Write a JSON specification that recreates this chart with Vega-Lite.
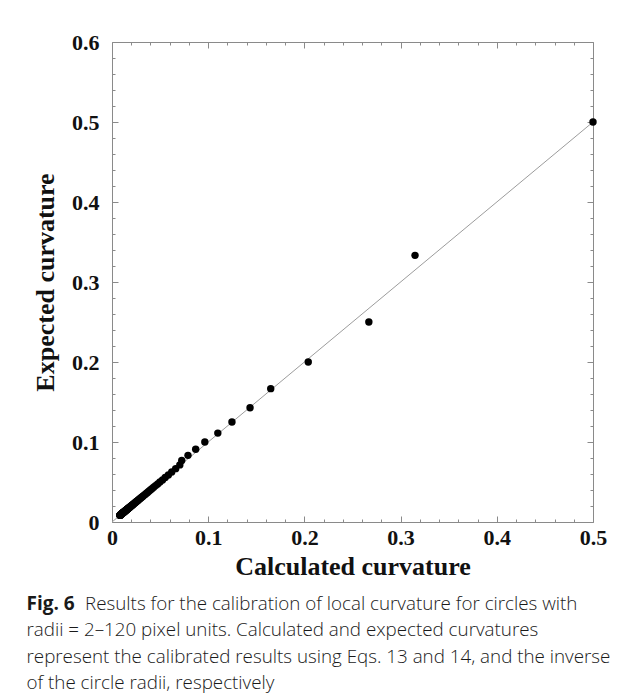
{
  "$schema": "https://vega.github.io/schema/vega-lite/v6.json",
  "width": 481,
  "height": 480,
  "autosize": {"type": "none"},
  "padding": {"left": 112, "top": 42, "right": 36, "bottom": 177},
  "background": "white",
  "config": {
    "view": {"stroke": null},
    "axis": {
      "domainColor": "#8a8a8a",
      "tickColor": "#8a8a8a",
      "grid": false,
      "labelFont": "Liberation Serif",
      "labelFontWeight": "bold",
      "labelFontSize": 22,
      "labelColor": "#111",
      "titleFont": "Liberation Serif",
      "titleFontWeight": "bold",
      "titleFontSize": 26,
      "titleColor": "#111",
      "labelFlush": false,
      "labelOverlap": false,
      "format": ".1~f"
    }
  },
  "title": {
    "text": "Fig. 6",
    "subtitle": [
      "\u200b\u00a0\u00a0\u00a0\u00a0\u00a0\u00a0\u00a0\u00a0\u00a0\u00a0\u00a0\u00a0Results for the calibration of local curvature for circles with",
      "radii = 2–120 pixel units. Calculated and expected curvatures",
      "represent the calibrated results using Eqs. 13 and 14, and the inverse",
      "of the circle radii, respectively"
    ],
    "orient": "bottom",
    "anchor": "start",
    "frame": "bounds",
    "font": "Open Sans",
    "fontSize": 19,
    "fontWeight": "bold",
    "color": "#1a1a1a",
    "subtitleFont": "Open Sans",
    "subtitleFontSize": 18.8,
    "subtitleFontWeight": 300,
    "subtitleColor": "#1a1a1a",
    "subtitleLineHeight": 26.3,
    "subtitlePadding": -19,
    "offset": 16,
    "dx": -6
  },
  "datasets": {
    "ref": [{"calc": 0, "exp": 0}, {"calc": 0.5, "exp": 0.5}],
    "pts": [
      {"calc": 0.5, "exp": 0.5},
      {"calc": 0.315, "exp": 0.3333},
      {"calc": 0.267, "exp": 0.25},
      {"calc": 0.204, "exp": 0.2},
      {"calc": 0.165, "exp": 0.1667},
      {"calc": 0.1435, "exp": 0.1429},
      {"calc": 0.1247, "exp": 0.125},
      {"calc": 0.110, "exp": 0.1111},
      {"calc": 0.0965, "exp": 0.1},
      {"calc": 0.087, "exp": 0.0909},
      {"calc": 0.079, "exp": 0.0833},
      {"calc": 0.0725, "exp": 0.0769},
      {"calc": 0.0705, "exp": 0.0714},
      {"calc": 0.0662, "exp": 0.0667},
      {"calc": 0.0621, "exp": 0.0625},
      {"calc": 0.0586, "exp": 0.0588},
      {"calc": 0.0553, "exp": 0.0556},
      {"calc": 0.0525, "exp": 0.0526},
      {"calc": 0.0498, "exp": 0.05},
      {"calc": 0.0475, "exp": 0.0476},
      {"calc": 0.0453, "exp": 0.0455},
      {"calc": 0.0433, "exp": 0.0435},
      {"calc": 0.0415, "exp": 0.0417},
      {"calc": 0.0399, "exp": 0.04},
      {"calc": 0.0383, "exp": 0.0385},
      {"calc": 0.0369, "exp": 0.037},
      {"calc": 0.0356, "exp": 0.0357},
      {"calc": 0.0344, "exp": 0.0345},
      {"calc": 0.0332, "exp": 0.0333},
      {"calc": 0.0322, "exp": 0.0323},
      {"calc": 0.0312, "exp": 0.0313},
      {"calc": 0.0302, "exp": 0.0303},
      {"calc": 0.0293, "exp": 0.0294},
      {"calc": 0.0285, "exp": 0.0286},
      {"calc": 0.0277, "exp": 0.0278},
      {"calc": 0.0269, "exp": 0.027},
      {"calc": 0.0262, "exp": 0.0263},
      {"calc": 0.0255, "exp": 0.0256},
      {"calc": 0.0249, "exp": 0.025},
      {"calc": 0.0243, "exp": 0.0244},
      {"calc": 0.0237, "exp": 0.0238},
      {"calc": 0.0232, "exp": 0.0233},
      {"calc": 0.0226, "exp": 0.0227},
      {"calc": 0.0221, "exp": 0.0222},
      {"calc": 0.0216, "exp": 0.0217},
      {"calc": 0.0212, "exp": 0.0213},
      {"calc": 0.0207, "exp": 0.0208},
      {"calc": 0.0203, "exp": 0.0204},
      {"calc": 0.0199, "exp": 0.02},
      {"calc": 0.0195, "exp": 0.0196},
      {"calc": 0.0191, "exp": 0.0192},
      {"calc": 0.0188, "exp": 0.0189},
      {"calc": 0.0184, "exp": 0.0185},
      {"calc": 0.0181, "exp": 0.0182},
      {"calc": 0.0178, "exp": 0.0179},
      {"calc": 0.0174, "exp": 0.0175},
      {"calc": 0.0171, "exp": 0.0172},
      {"calc": 0.0168, "exp": 0.0169},
      {"calc": 0.0166, "exp": 0.0167},
      {"calc": 0.0163, "exp": 0.0164},
      {"calc": 0.016, "exp": 0.0161},
      {"calc": 0.0158, "exp": 0.0159},
      {"calc": 0.0155, "exp": 0.0156},
      {"calc": 0.0153, "exp": 0.0154},
      {"calc": 0.0151, "exp": 0.0152},
      {"calc": 0.0148, "exp": 0.0149},
      {"calc": 0.0146, "exp": 0.0147},
      {"calc": 0.0144, "exp": 0.0145},
      {"calc": 0.0142, "exp": 0.0143},
      {"calc": 0.014, "exp": 0.0141},
      {"calc": 0.0138, "exp": 0.0139},
      {"calc": 0.0136, "exp": 0.0137},
      {"calc": 0.0134, "exp": 0.0135},
      {"calc": 0.0132, "exp": 0.0133},
      {"calc": 0.0131, "exp": 0.0132},
      {"calc": 0.0129, "exp": 0.013},
      {"calc": 0.0127, "exp": 0.0128},
      {"calc": 0.0126, "exp": 0.0127},
      {"calc": 0.0124, "exp": 0.0125},
      {"calc": 0.0122, "exp": 0.0123},
      {"calc": 0.0121, "exp": 0.0122},
      {"calc": 0.0119, "exp": 0.012},
      {"calc": 0.0118, "exp": 0.0119},
      {"calc": 0.0117, "exp": 0.0118},
      {"calc": 0.0115, "exp": 0.0116},
      {"calc": 0.0114, "exp": 0.0115},
      {"calc": 0.0113, "exp": 0.0114},
      {"calc": 0.0111, "exp": 0.0112},
      {"calc": 0.011, "exp": 0.0111},
      {"calc": 0.0109, "exp": 0.011},
      {"calc": 0.0108, "exp": 0.0109},
      {"calc": 0.0107, "exp": 0.0108},
      {"calc": 0.0105, "exp": 0.0106},
      {"calc": 0.0104, "exp": 0.0105},
      {"calc": 0.0103, "exp": 0.0104},
      {"calc": 0.0102, "exp": 0.0103},
      {"calc": 0.0101, "exp": 0.0102},
      {"calc": 0.01, "exp": 0.0101},
      {"calc": 0.0099, "exp": 0.01},
      {"calc": 0.0098, "exp": 0.0099},
      {"calc": 0.0097, "exp": 0.0098},
      {"calc": 0.0096, "exp": 0.0097},
      {"calc": 0.0095, "exp": 0.0096},
      {"calc": 0.0094, "exp": 0.0095},
      {"calc": 0.0093, "exp": 0.0094},
      {"calc": 0.0092, "exp": 0.0093},
      {"calc": 0.0092, "exp": 0.0093},
      {"calc": 0.0091, "exp": 0.0092},
      {"calc": 0.009, "exp": 0.0091},
      {"calc": 0.0089, "exp": 0.009},
      {"calc": 0.0088, "exp": 0.0089},
      {"calc": 0.0087, "exp": 0.0088},
      {"calc": 0.0087, "exp": 0.0088},
      {"calc": 0.0086, "exp": 0.0087},
      {"calc": 0.0085, "exp": 0.0086},
      {"calc": 0.0084, "exp": 0.0085},
      {"calc": 0.0084, "exp": 0.0085},
      {"calc": 0.0083, "exp": 0.0084},
      {"calc": 0.0082, "exp": 0.0083}
    ]
  },
  "resolve": {"axis": {"x": "independent", "y": "independent"}},
  "layer": [
    {
      "data": {"name": "ref"},
      "mark": {"type": "line", "color": "#9c9c9c", "strokeWidth": 1},
      "encoding": {
        "x": {
          "field": "calc", "type": "quantitative",
          "scale": {"domain": [0, 0.5], "nice": false},
          "axis": {
            "orient": "bottom",
            "values": [0, 0.1, 0.2, 0.3, 0.4, 0.5],
            "tickSize": -6,
            "labelPadding": 11,
            "title": "Calculated curvature",
            "titlePadding": 5
          }
        },
        "y": {
          "field": "exp", "type": "quantitative",
          "scale": {"domain": [0, 0.6], "nice": false},
          "axis": {
            "orient": "left",
            "values": [0, 0.1, 0.2, 0.3, 0.4, 0.5, 0.6],
            "tickSize": -6,
            "labelPadding": 19,
            "title": "Expected curvature",
            "titlePadding": 13
          }
        }
      }
    },
    {
      "data": {"name": "pts"},
      "mark": {"type": "point", "filled": true, "color": "#000", "size": 55, "opacity": 1},
      "encoding": {
        "x": {
          "field": "calc", "type": "quantitative",
          "axis": {"orient": "top", "values": [0, 0.1, 0.2, 0.3, 0.4, 0.5], "tickSize": -6, "labels": false, "title": null}
        },
        "y": {
          "field": "exp", "type": "quantitative",
          "axis": {"orient": "right", "values": [0, 0.1, 0.2, 0.3, 0.4, 0.5, 0.6], "tickSize": -6, "labels": false, "title": null}
        }
      }
    },
    {
      "data": {"name": "ref"},
      "mark": {"type": "line", "strokeOpacity": 0},
      "encoding": {
        "x": {
          "field": "calc", "type": "quantitative",
          "axis": {"orient": "bottom", "domain": false, "values": [0.02, 0.04, 0.06, 0.08, 0.12, 0.14, 0.16, 0.18, 0.22, 0.24, 0.26, 0.28, 0.32, 0.34, 0.36, 0.38, 0.42, 0.44, 0.46, 0.48], "tickSize": -3, "labels": false, "title": null}
        },
        "y": {
          "field": "exp", "type": "quantitative",
          "axis": {"orient": "left", "domain": false, "values": [0.02, 0.04, 0.06, 0.08, 0.12, 0.14, 0.16, 0.18, 0.22, 0.24, 0.26, 0.28, 0.32, 0.34, 0.36, 0.38, 0.42, 0.44, 0.46, 0.48, 0.52, 0.54, 0.56, 0.58], "tickSize": -3, "labels": false, "title": null}
        }
      }
    },
    {
      "data": {"name": "ref"},
      "mark": {"type": "line", "strokeOpacity": 0},
      "encoding": {
        "x": {
          "field": "calc", "type": "quantitative",
          "axis": {"orient": "top", "domain": false, "values": [0.02, 0.04, 0.06, 0.08, 0.12, 0.14, 0.16, 0.18, 0.22, 0.24, 0.26, 0.28, 0.32, 0.34, 0.36, 0.38, 0.42, 0.44, 0.46, 0.48], "tickSize": -3, "labels": false, "title": null}
        },
        "y": {
          "field": "exp", "type": "quantitative",
          "axis": {"orient": "right", "domain": false, "values": [0.02, 0.04, 0.06, 0.08, 0.12, 0.14, 0.16, 0.18, 0.22, 0.24, 0.26, 0.28, 0.32, 0.34, 0.36, 0.38, 0.42, 0.44, 0.46, 0.48, 0.52, 0.54, 0.56, 0.58], "tickSize": -3, "labels": false, "title": null}
        }
      }
    }
  ]
}
